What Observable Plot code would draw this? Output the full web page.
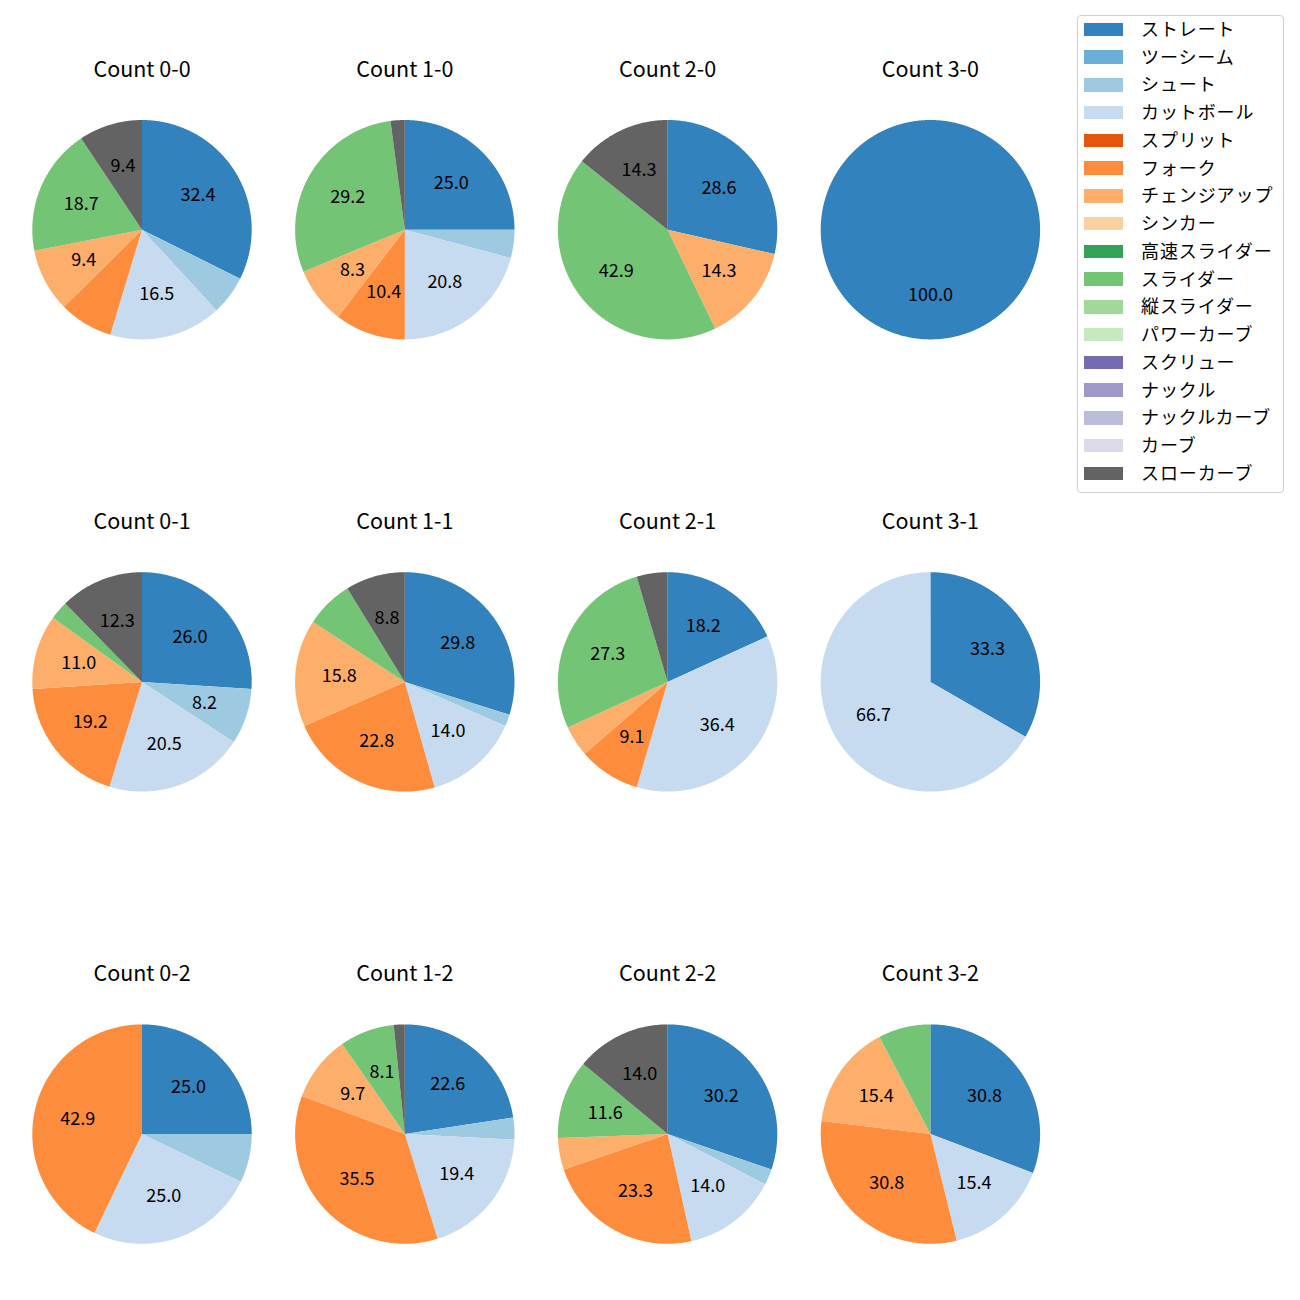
<!DOCTYPE html>
<html>
<head>
<meta charset="utf-8">
<script src="https://cdn.jsdelivr.net/npm/d3@7"></script>
<script src="https://cdn.jsdelivr.net/npm/@observablehq/plot@0.6"></script>
<style>
  html, body { margin: 0; padding: 0; background: white; }
  #wrap { position: relative; width: 1300px; height: 1300px; font-family: "Noto Sans CJK JP", sans-serif; }
  #legend { position: absolute; left: 1077px; top: 15px; width: 207px; height: 478px; border: 1px solid #d0d0d0; border-radius: 4px; background: white; box-sizing: border-box; }
  .sw { position: absolute; left: 6px; width: 39px; height: 13.5px; }
  .lab { position: absolute; left: 63px; font-size: 18px; letter-spacing: 0.9px; white-space: nowrap; color: #000; line-height: 1; }
</style>
</head>
<body>
<div id="wrap"><div id="legend"></div></div>
<script>
const pitchTypes = ["ストレート","ツーシーム","シュート","カットボール","スプリット","フォーク","チェンジアップ","シンカー","高速スライダー","スライダー","縦スライダー","パワーカーブ","スクリュー","ナックル","ナックルカーブ","カーブ","スローカーブ"];
const pitchColors = ["#3182bd","#6baed6","#9ecae1","#c6dbef","#e6550d","#fd8d3c","#fdae6b","#fdd0a2","#31a354","#74c476","#a1d99b","#c7e9c0","#756bb1","#9e9ac8","#bcbddc","#dadaeb","#636363"];

// counts per pitch type (same order as pitchTypes)
const count00 = [45,0,8,23,0,11,13,0,0,26,0,0,0,0,0,0,13];
const count10 = [12,0,2,10,0,5,4,0,0,14,0,0,0,0,0,0,1];
const count20 = [2,0,0,0,0,0,1,0,0,3,0,0,0,0,0,0,1];
const count30 = [1,0,0,0,0,0,0,0,0,0,0,0,0,0,0,0,0];
const count01 = [19,0,6,15,0,14,8,0,0,2,0,0,0,0,0,0,9];
const count11 = [17,0,1,8,0,13,9,0,0,4,0,0,0,0,0,0,5];
const count21 = [4,0,0,8,0,2,1,0,0,6,0,0,0,0,0,0,1];
const count31 = [1,0,0,2,0,0,0,0,0,0,0,0,0,0,0,0,0];
const count02 = [7,0,2,7,0,12,0,0,0,0,0,0,0,0,0,0,0];
const count12 = [14,0,2,12,0,22,6,0,0,5,0,0,0,0,0,0,1];
const count22 = [13,0,1,6,0,10,2,0,0,5,0,0,0,0,0,0,6];
const count32 = [4,0,0,2,0,4,2,0,0,1,0,0,0,0,0,0,0];

const countNames = ["0-0","1-0","2-0","3-0","0-1","1-1","2-1","3-1","0-2","1-2","2-2","3-2"];
const pieValues = [count00,count10,count20,count30,count01,count11,count21,count31,count02,count12,count22,count32];

const wedges = [], labels = [], titles = [];
countNames.forEach((name, i) => {
  const vals = pieValues[i];
  const total = d3.sum(vals);
  const col = i % 4, row = Math.floor(i / 4);
  titles.push({title: "Count " + name, col, row});
  let cum = 0;
  vals.forEach((v, k) => {
    if (!v) return;
    const f0 = cum / total, f1 = (cum + v) / total;
    cum += v;
    const key = i + "-" + k;
    const pitch = pitchTypes[k];
    wedges.push({key, pitch, col, row, x: 0, y: 0});
    const n = Math.max(2, Math.ceil((f1 - f0) * 720));
    for (let j = 0; j <= n; j++) {
      const f = f0 + (f1 - f0) * j / n;
      const a = Math.PI / 2 - 2 * Math.PI * f;
      wedges.push({key, pitch, col, row, x: Math.cos(a), y: Math.sin(a)});
    }
    const pct = 100 * v / total;
    if (pct >= 8) {
      const a = Math.PI / 2 - 2 * Math.PI * (f0 + f1) / 2;
      labels.push({col, row, x: 0.6 * Math.cos(a), y: 0.6 * Math.sin(a), text: pct.toFixed(1)});
    }
  });
});

const R = 130 / 109.7;
const chart = Plot.plot({
  width: 1300,
  height: 1300,
  marginLeft: 11.5,
  marginRight: 240.1,
  marginTop: 99.2,
  marginBottom: 36.4,
  fx: {domain: [0,1,2,3], paddingInner: 0.010654, paddingOuter: 0, round: false, axis: null},
  fy: {domain: [0,1,2], paddingInner: 0.42503, paddingOuter: 0, round: false, axis: null},
  x: {domain: [-R, R], axis: null},
  y: {domain: [-R, R], axis: null},
  color: {domain: pitchTypes, range: pitchColors},
  style: {fontFamily: "Noto Sans CJK JP", background: "white"},
  marks: [
    Plot.line(wedges, {x: "x", y: "y", z: "key", fill: "pitch", stroke: null, fx: "col", fy: "row", curve: "linear"}),
    Plot.text(labels, {x: "x", y: "y", text: "text", fx: "col", fy: "row", fontSize: 18, fill: "black"}),
    Plot.text(titles, {text: "title", fx: "col", fy: "row", frameAnchor: "top", lineAnchor: "middle", dy: -30, fontSize: 21.5, fill: "black"})
  ]
});
const wrap = document.getElementById("wrap");
wrap.insertBefore(chart, wrap.firstChild);

const legend = document.getElementById("legend");
pitchTypes.forEach((p, k) => {
  const cy = 13.3 + k * 27.75;
  const sw = document.createElement("div");
  sw.className = "sw";
  sw.style.top = (cy - 6.75) + "px";
  sw.style.background = pitchColors[k];
  legend.appendChild(sw);
  const lab = document.createElement("div");
  lab.className = "lab";
  lab.style.top = (cy - 10.5) + "px";
  lab.textContent = p;
  legend.appendChild(lab);
});
</script>
</body>
</html>
